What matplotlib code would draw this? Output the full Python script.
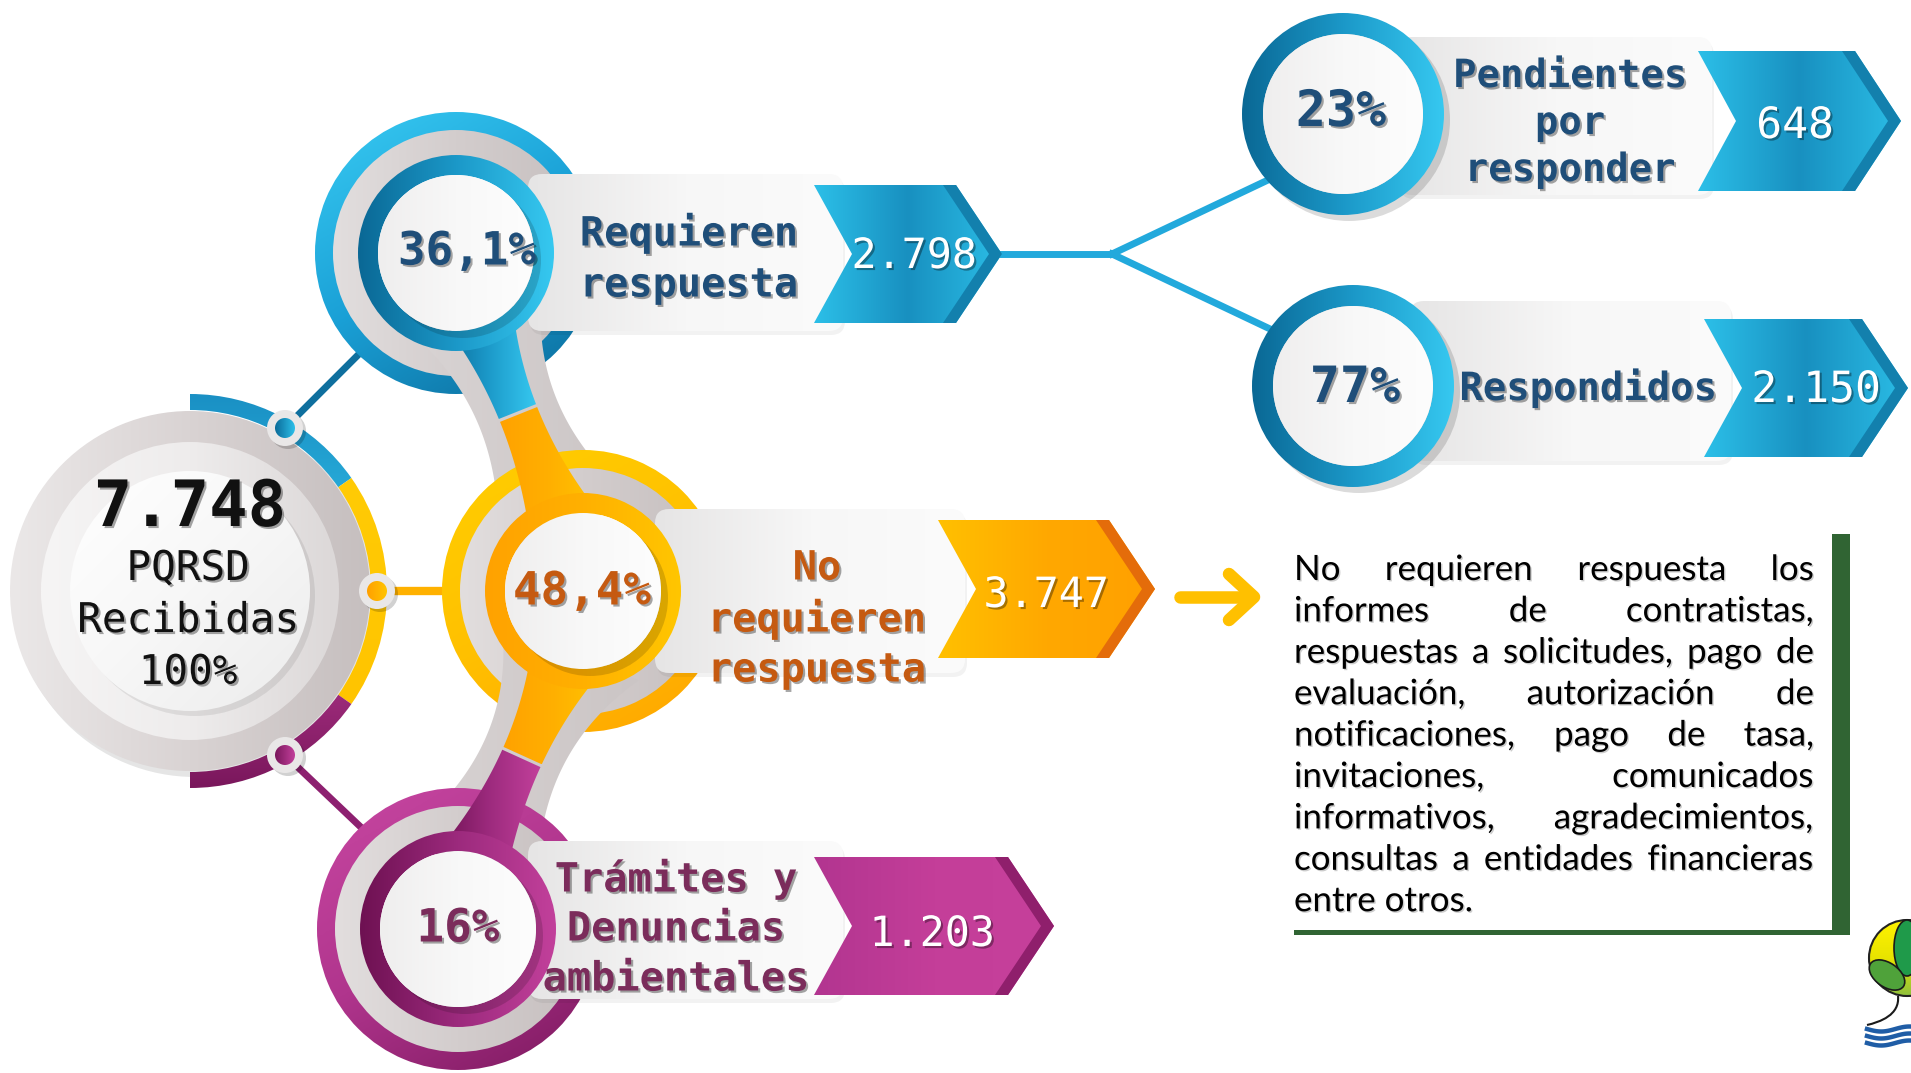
import numpy as np
import matplotlib
matplotlib.use('Agg')
import matplotlib.pyplot as plt
from matplotlib.patches import Circle, Wedge, Polygon, FancyBboxPatch, Ellipse, PathPatch, Rectangle
from matplotlib.path import Path
from matplotlib.colors import LinearSegmentedColormap
import matplotlib.patheffects as pe

# ---- data ----
total = 7748
total_label = ['PQRSD', 'Recibidas', '100%']
categories = [['Requieren', 'respuesta'],
              ['No', 'requieren', 'respuesta'],
              ['Trámites y', 'Denuncias', 'ambientales']]
shares = [36.1, 48.4, 16]
counts = [2798, 3747, 1203]
sub_categories = [['Pendientes', 'por', 'responder'], ['Respondidos']]
sub_shares = [23, 77]
sub_counts = [648, 2150]
note_lines = ['No requieren respuesta los',
              'informes de contratistas,',
              'respuestas a solicitudes, pago de',
              'evaluación, autorización de',
              'notificaciones, pago de tasa,',
              'invitaciones, comunicados',
              'informativos, agradecimientos,',
              'consultas a entidades financieras',
              'entre otros.']


def miles(n):
    return f'{n:,}'.replace(',', '.')


def pct(v):
    s = f'{v:.1f}' if v != int(v) else f'{int(v)}'
    return s.replace('.', ',') + '%'


W, H = 1911, 1073
fig = plt.figure(figsize=(19.11, 10.73), dpi=100)
ax = fig.add_axes([0, 0, 1, 1])
ax.set_xlim(0, W)
ax.set_ylim(H, 0)
ax.axis('off')

MONO = 'DejaVu Sans Mono'
shadow = [pe.withSimplePatchShadow(offset=(1.5, -1.5), shadow_rgbFace='k', alpha=0.35)]
soft = [pe.withSimplePatchShadow(offset=(1, -1), shadow_rgbFace='k', alpha=0.2)]


def grad(patch, colors, angle=0, z=1, alpha=1.0):
    patch.set_facecolor('none')
    patch.set_edgecolor('none')
    patch.set_zorder(z)
    ax.add_patch(patch)
    v = patch.get_patch_transform().transform(patch.get_path().vertices)
    x0, y0 = v.min(0)
    x1, y1 = v.max(0)
    xx, yy = np.meshgrid(np.linspace(0, 1, 128), np.linspace(0, 1, 128))
    a = np.deg2rad(angle)
    g = xx * np.cos(a) + yy * np.sin(a)
    g = (g - g.min()) / (g.max() - g.min())
    cmap = LinearSegmentedColormap.from_list('g', colors)
    im = ax.imshow(g, cmap=cmap, extent=(x0, x1, y1, y0), origin='upper',
                   aspect='auto', zorder=z, alpha=alpha, interpolation='bilinear')
    im.set_clip_path(patch)
    return patch


def ring(c, r, w, colors, angle=0, z=1):
    return grad(Wedge(c, r, 0, 360, width=w), colors, angle, z)


def disk_shadow(c, r, z, off=6, alpha=0.12):
    ax.add_patch(Circle((c[0] + off, c[1] + off), r, color='k', alpha=alpha, lw=0, zorder=z))


def lines_text(x, y, lines, dy, **kw):
    y0 = y - dy * (len(lines) - 1) / 2
    for i, s in enumerate(lines):
        ax.text(x, y0 + i * dy, s, ha='center', va='center', **kw)


def stem(p0, pm, p2, w0, wm, w2, n=80):
    p0, pm, p2 = map(np.array, (p0, pm, p2))
    t = np.linspace(0, 1, n)
    c = 2 * pm - (p0 + p2) / 2
    P = ((1 - t) ** 2)[:, None] * p0 + (2 * (1 - t) * t)[:, None] * c + (t ** 2)[:, None] * p2
    d = (2 * (1 - t))[:, None] * (c - p0) + (2 * t)[:, None] * (p2 - c)
    nr = np.stack([-d[:, 1], d[:, 0]], 1)
    nr /= np.linalg.norm(nr, axis=1)[:, None]
    w = w0 * 2 * (t - 0.5) * (t - 1) - wm * 4 * t * (t - 1) + w2 * 2 * t * (t - 0.5)
    return P + nr * w[:, None] / 2, P - nr * w[:, None] / 2, t


def stem_poly(left, right, mask):
    return Polygon(np.vstack([left[mask], right[mask][::-1]]), closed=True)


def chevron(x0, x1, yt, yb, notch=38, tip=46):
    ym = (yt + yb) / 2
    return [(x0, yt), (x1 - tip, yt), (x1, ym), (x1 - tip, yb), (x0, yb), (x0 + notch, ym)]


def draw_chevron(x0, x1, yt, yb, cols, fold, z=6):
    grad(Polygon(chevron(x0, x1, yt, yb), closed=True), cols, 0, z)
    ym = (yt + yb) / 2
    s = 13
    fp = [(x1 - 46 - s, yt), (x1 - 46, yt), (x1, ym), (x1 - 46, yb), (x1 - 46 - s, yb), (x1 - s, ym)]
    ax.add_patch(Polygon(fp, closed=True, color=fold, lw=0, zorder=z + 0.1))


def label_box(x0, y0, x1, y1, z=3):
    ax.add_patch(FancyBboxPatch((x0 + 2, y0 + 4), x1 - x0, y1 - y0,
                                boxstyle='round,pad=0,rounding_size=14',
                                color='k', alpha=0.05, lw=0, zorder=z - 0.1))
    grad(FancyBboxPatch((x0, y0), x1 - x0, y1 - y0, boxstyle='round,pad=0,rounding_size=14'),
         ['#e6e5e5', '#f7f7f7', '#fbfbfb'], 0, z)


# ---- main circle ----
mc = (190, 591)
# connectors from the main ring to the three nodes
ax.plot([285, 366], [428, 347], color='#0f6f9e', lw=5, zorder=1, solid_capstyle='round')
ax.plot([377, 450], [591, 591], color='#ffb100', lw=6, zorder=1)
ax.plot([285, 388], [755, 853], color='#8d2070', lw=5, zorder=1, solid_capstyle='round')

disk_shadow(mc, 181, 1.5, off=5, alpha=0.10)
ring(mc, 180, 32, ['#ebe8e8', '#d9d3d3', '#c6bfbf'], 0, 2)
ring(mc, 149, 30, ['#f6f5f5', '#eeecec', '#dcd8d8'], 0, 2)
disk_shadow(mc, 120, 2.1, off=5, alpha=0.08)
grad(Circle(mc, 120), ['#ffffff', '#f7f7f7', '#ececec'], 45, 2.2)
grad(Wedge(mc, 197, -90, -35, width=16), ['#1a90c4', '#33c4ec'], 90, 2.5)
grad(Wedge(mc, 197, -35, 35, width=16), ['#ffcb05', '#ffc400'], 90, 2.5)
grad(Wedge(mc, 197, 35, 90, width=16), ['#c2409b', '#7a175c'], 90, 2.5)
for (dx, dy), col in zip([(285, 428), (377, 591), (285, 755)],
                         [['#0b6b99', '#2cc0ea'], ['#ffa000', '#ffc400'], ['#7a175c', '#c2409b']]):
    disk_shadow((dx, dy), 18, 2.8, off=3, alpha=0.18)
    ax.add_patch(Circle((dx, dy), 18, color='#e9e7e7', lw=0, zorder=2.9))
    grad(Circle((dx, dy), 10), col, 0, 3)

ax.text(mc[0], 508, miles(total), ha='center', va='center', fontsize=46, family=MONO,
        weight='bold', color='#111111', path_effects=shadow, zorder=10)
lines_text(mc[0] - 2, 621, total_label, 52, fontsize=29.5, family=MONO, weight='medium',
           color='#111111', path_effects=shadow, zorder=10)

# ---- first-level nodes ----
node_c = [(456, 253), (583, 591), (458, 929)]
outer_cols = [['#39cbf3', '#1aa0d6', '#0b6a99'], ['#ffcf00', '#ffc000', '#ffa400'], ['#c847a2', '#b0358d', '#7c185e']]
inner_cols = [['#0a6895', '#1b98c8', '#36c8f0'], ['#ffa200', '#ffb000', '#ffc600'], ['#6e1152', '#9c2a7d', '#c2409b']]
text_cols = ['#1f4e79', '#c55a11', '#7b2c5b']
boxes = [(528, 174, 843, 331), (655, 509, 965, 673), (528, 841, 843, 999)]
chevs = [(814, 1002, 185, 323), (938, 1155, 520, 658), (814, 1054, 857, 995)]
chev_cols = [['#2cbfe8', '#1890c0', '#2bbde6'], ['#ffc000', '#ffa800', '#ffa000'], ['#b23590', '#c43e99', '#c6409b']]
folds = ['#1380ad', '#e46c0a', '#8f1f6c']
pct_pos = [(467, 252), (582, 592), (458, 929)]
lab_pos = [(689, 259), (817, 619), (676, 929)]
lab_dy = [52, 51, 50]
num_pos = [(914, 256), (1046, 595), (932, 934)]

# stems joining the nodes
s1 = stem((474, 300), (518, 413), (566, 530), 150, 82, 150)
s2 = stem((570, 650), (522, 757), (470, 870), 150, 82, 150)
c1 = stem((474, 300), (518, 413), (566, 530), 80, 40, 76)
c2 = stem((570, 650), (522, 757), (470, 870), 80, 42, 76)

for i, c in enumerate(node_c):
    z = 1 + i * 0.3
    ring(c, 141, 19, outer_cols[i], 60, z)
    ring(c, 123, 27, ['#e2dede', '#d3cdcd', '#c7c0c0'], 0, z + 0.01)
    if i < 2:
        left, right, t = (s1, s2)[i]
        grad(stem_poly(left, right, t >= 0), ['#d9d4d4', '#cbc5c5'], 0, z + 0.2)

for i in range(3):
    label_box(*boxes[i])

for (left, right, t), cols in zip([c1, c2], [(inner_cols[0], inner_cols[1]), (inner_cols[1], inner_cols[2])]):
    grad(stem_poly(left, right, t <= 0.5), cols[0], 0, 4)
    grad(stem_poly(left, right, t >= 0.5), cols[1], 0, 4)

for i, c in enumerate(node_c):
    ring(c, 98, 20, inner_cols[i], 0, 4.5)
    disk_shadow(c, 78, 4.6, off=7, alpha=0.15)
    grad(Circle(c, 78), ['#efeeee', '#f8f8f8', '#fdfdfd'], 0, 4.7)
    draw_chevron(*chevs[i], chev_cols[i], folds[i])
    ax.text(*pct_pos[i], pct(shares[i]), ha='center', va='center', fontsize=33, family=MONO,
            weight='bold', color=text_cols[i], path_effects=shadow, zorder=10)
    lines_text(*lab_pos[i], categories[i], lab_dy[i], fontsize=29, family=MONO, weight='bold',
               color=text_cols[i], path_effects=shadow, zorder=10)
    ax.text(*num_pos[i], miles(counts[i]), ha='center', va='center', fontsize=30, family=MONO,
            color='white', path_effects=shadow, zorder=10)

# ---- second-level nodes (split of "Requieren respuesta") ----
ax.plot([1002, 1112], [254, 254], color='#22a9dc', lw=5, zorder=1)
ax.plot([1112, 1268], [254, 180], color='#22a9dc', lw=5, zorder=1)
ax.plot([1112, 1268], [254, 328], color='#22a9dc', lw=5, zorder=1)

sub_c = [(1343, 114), (1353, 386)]
sub_boxes = [(1398, 37, 1712, 195), (1410, 301, 1731, 461)]
sub_chevs = [(1698, 1901, 51, 191), (1704, 1908, 319, 457)]
sub_pct_pos = [(1341, 112), (1355, 388)]
sub_lab_pos = [(1570, 123), (1588, 388)]
sub_num_pos = [(1795, 126), (1816, 390)]

for i, c in enumerate(sub_c):
    label_box(*sub_boxes[i], z=3)
    disk_shadow(c, 101, 3.9, off=6, alpha=0.14)
    ring(c, 101, 21, ['#0a6895', '#1b98c8', '#36c8f0'], 0, 4.5)
    grad(Circle(c, 80), ['#efeeee', '#f8f8f8', '#fdfdfd'], 0, 4.7)
    draw_chevron(*sub_chevs[i], ['#2cbfe8', '#1890c0', '#2bbde6'], '#1380ad')
    ax.text(*sub_pct_pos[i], pct(sub_shares[i]), ha='center', va='center', fontsize=36,
            family=MONO, weight='bold', color='#1f4e79', path_effects=shadow, zorder=10)
    lines_text(*sub_lab_pos[i], sub_categories[i], 47, fontsize=28, family=MONO, weight='bold',
               color='#1f4e79', path_effects=shadow, zorder=10)
    ax.text(*sub_num_pos[i], miles(sub_counts[i]), ha='center', va='center', fontsize=31,
            family=MONO, color='white', path_effects=shadow, zorder=10)

# ---- arrow and note ----
ax.plot([1180, 1250], [597, 597], color='#ffc000', lw=9, solid_capstyle='round', zorder=5)
ax.plot([1229, 1254, 1229], [574, 597, 620], color='#ffc000', lw=9,
        solid_capstyle='round', solid_joinstyle='round', zorder=5)

ax.add_patch(Rectangle((1832, 534), 18, 398, color='#306433', lw=0, zorder=5))
ax.add_patch(Rectangle((1294, 930), 556, 5, color='#306433', lw=0, zorder=5))

renderer = fig.canvas.get_renderer()


def text_w(s, fs):
    t = ax.text(0, 0, s, fontsize=fs, family='Lato')
    w = t.get_window_extent(renderer).width
    t.remove()
    return w


nx0, nx1 = 1294, 1814
nfs = 20 * 0.97 * (nx1 - nx0) / text_w('consultas a entidades financieras', 20)
for i, line in enumerate(note_lines):
    yb = 580 + 41.4 * i
    words = line.split()
    if i == len(note_lines) - 1:
        ax.text(nx0, yb, line, ha='left', va='baseline', fontsize=nfs, family='Lato',
                color='black', path_effects=soft, zorder=6)
        continue
    ws = [text_w(wd, nfs) for wd in words]
    gap = (nx1 - nx0 - sum(ws)) / (len(words) - 1)
    x = nx0
    for wd, w in zip(words, ws):
        ax.text(x, yb, wd, ha='left', va='baseline', fontsize=nfs, family='Lato',
                color='black', path_effects=soft, zorder=6)
        x += w + gap

# ---- logo fragment, bottom right ----
grad(Circle((1907, 958), 38), ['#fff200', '#e8e400', '#8fc13e'], 90, 6)
ax.add_patch(Circle((1907, 958), 38, fc='none', ec='#222222', lw=1.5, zorder=6.3))
ax.add_patch(Ellipse((1907, 948), 26, 56, fc='#1f9a4a', ec='#1a1a1a', lw=1.2, zorder=6.4))
ax.add_patch(Ellipse((1887, 975), 40, 24, angle=35, fc='#4fa23a', ec='#1a1a1a', lw=1.2, zorder=6.4))
curve = Path([(1898, 996), (1900, 1015), (1880, 1022), (1867, 1025)],
             [Path.MOVETO, Path.CURVE4, Path.CURVE4, Path.CURVE4])
ax.add_patch(PathPatch(curve, fc='none', ec='#1a1a1a', lw=1.5, zorder=6.4))
wx = np.linspace(1867, 1911, 40)
for k, yy in enumerate([1029, 1036, 1043]):
    ax.plot(wx, yy + 2.5 * np.sin((wx - 1867) / 9), color='#1f5da6', lw=3.2, zorder=6.4)

ax.set_xlim(0, W)
ax.set_ylim(H, 0)
fig.savefig('out.png', dpi=100, facecolor='white')
